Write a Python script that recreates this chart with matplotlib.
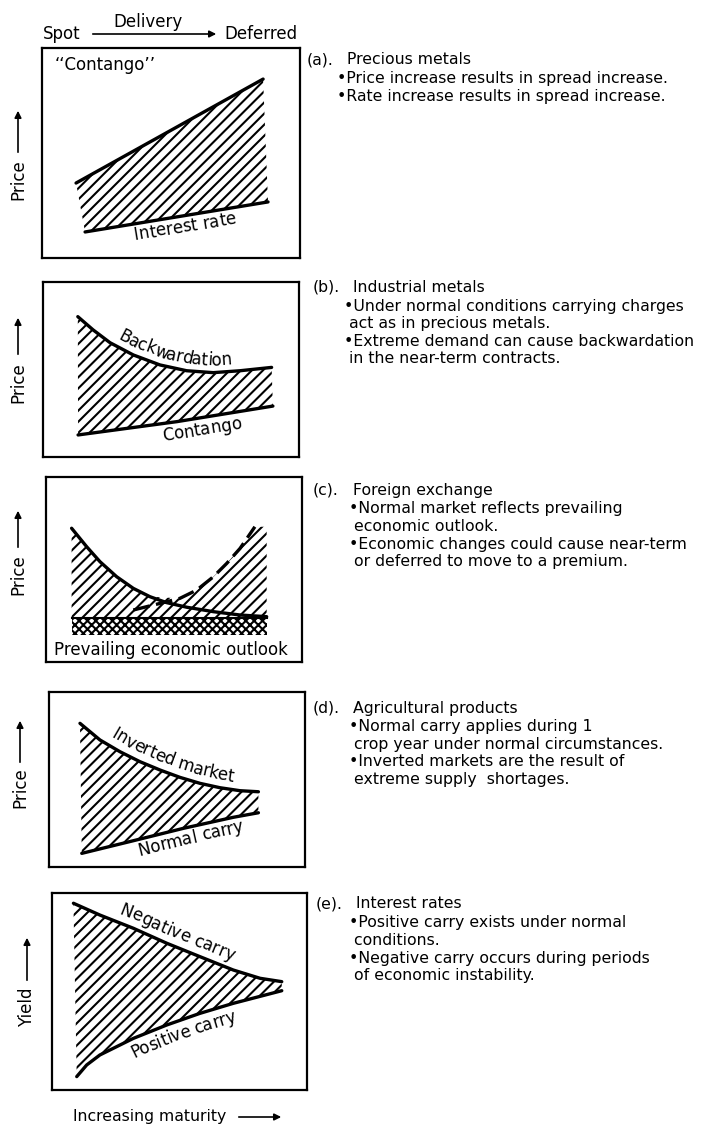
import numpy as np
import matplotlib
matplotlib.use("Agg")
import matplotlib.pyplot as plt
from matplotlib.font_manager import FontProperties

plt.rcParams['font.family'] = ['DejaVu Sans']
plt.rcParams['hatch.linewidth'] = 1.5

W, H = 706, 1124

# ---- curve data, each panel on a 0-10 maturity / 0-10 price scale ----
# (a) precious metals
a_upper_x = [1.32, 8.57]
a_upper_y = [3.57, 8.52]
a_lower_x = [1.67, 8.76]
a_lower_y = [1.24, 2.67]

# (b) industrial metals
b_back_x = [1.36, 1.96, 2.62, 3.53, 4.57, 5.61, 6.65, 7.70, 8.93]
b_back_y = [8.02, 7.26, 6.53, 5.83, 5.26, 4.93, 4.82, 4.93, 5.12]
b_cont_x = [1.37, 5.23, 8.98]
b_cont_y = [1.26, 2.02, 2.91]

# (c) foreign exchange
c_solid_x = [1.00, 1.59, 2.11, 2.76, 3.41, 4.06, 4.71, 5.50, 6.54, 7.58, 8.62]
c_solid_y = [7.23, 6.23, 5.42, 4.61, 3.98, 3.53, 3.21, 2.96, 2.72, 2.54, 2.45]
c_dash_x = [3.41, 3.93, 4.58, 5.23, 5.89, 6.54, 7.06, 7.58, 8.16]
c_dash_y = [2.81, 2.99, 3.21, 3.44, 3.89, 4.61, 5.33, 6.14, 7.31]
c_band_x = [1.00, 8.62]
c_band_y = [1.46, 2.38]

# (d) agricultural products
d_inv_x = [1.21, 1.99, 2.77, 3.55, 4.34, 5.12, 5.90, 6.68, 7.46, 8.18]
d_inv_y = [8.21, 7.26, 6.59, 6.02, 5.54, 5.12, 4.78, 4.53, 4.36, 4.30]
d_norm_x = [1.28, 3.29, 5.25, 7.20, 8.18]
d_norm_y = [0.78, 1.50, 2.21, 2.84, 3.10]

# (e) interest rates
e_neg_x = [0.84, 1.88, 3.19, 4.50, 5.80, 7.11, 8.16, 9.01]
e_neg_y = [9.48, 8.88, 8.21, 7.45, 6.77, 6.09, 5.67, 5.50]
e_pos_x = [0.97, 1.36, 1.88, 3.19, 4.50, 5.80, 7.11, 9.01]
e_pos_y = [0.68, 1.27, 1.78, 2.62, 3.30, 3.89, 4.40, 5.04]

# panel boxes in pixels: left, top, right, bottom
boxes = [(42, 48, 300, 258), (43, 282, 299, 457), (46, 477, 302, 662),
         (49, 692, 305, 867), (52, 893, 307, 1090)]

notes = [
    ["(a).", "Precious metals",
     ["\u2022Price increase results in spread increase.",
      "\u2022Rate increase results in spread increase."]],
    ["(b).", "Industrial metals",
     ["\u2022Under normal conditions carrying charges",
      " act as in precious metals.",
      "\u2022Extreme demand can cause backwardation",
      " in the near-term contracts."]],
    ["(c).", "Foreign exchange",
     ["\u2022Normal market reflects prevailing",
      " economic outlook.",
      "\u2022Economic changes could cause near-term",
      " or deferred to move to a premium."]],
    ["(d).", "Agricultural products",
     ["\u2022Normal carry applies during 1",
      " crop year under normal circumstances.",
      "\u2022Inverted markets are the result of",
      " extreme supply  shortages."]],
    ["(e).", "Interest rates",
     ["\u2022Positive carry exists under normal",
      " conditions.",
      "\u2022Negative carry occurs during periods",
      " of economic instability."]],
]
note_y = [60, 287, 490, 708, 904]
note_x = [(307, 347, 337), (313, 353, 344), (313, 353, 349), (313, 353, 349), (316, 356, 349)]

axis_names = ["Price", "Price", "Price", "Price", "Yield"]
axis_lab_y = [180, 383, 575, 788, 1007]
axis_arrow = [(155, 108), (357, 315), (550, 508), (765, 718), (983, 935)]
axis_lab_x = [18, 18, 18, 20, 27]

fig = plt.figure(figsize=(W / 100, H / 100), dpi=100)
bg = fig.add_axes([0, 0, 1, 1])
bg.set_xlim(0, W)
bg.set_ylim(H, 0)
bg.axis('off')
renderer = fig.canvas.get_renderer()

FS = 11.3
LFS = 12
CURVE_LW = 2.4
HATCH = '///'


def panel(box):
    l, t, r, b = box
    ax = fig.add_axes([l / W, 1 - b / H, (r - l) / W, (b - t) / H])
    ax.set_xlim(0, 10)
    ax.set_ylim(0, 10)
    ax.set_xticks([])
    ax.set_yticks([])
    for s in ax.spines.values():
        s.set_linewidth(1.6)
    return ax


def curve(ax, xs, ys, **kw):
    ax.plot(xs, ys, color='black', lw=CURVE_LW, solid_joinstyle='round',
            solid_capstyle='round', **kw)


def label_along(ax, xs, ys, text, xc, offset, fs=LFS):
    # lay the characters of text along the curve, centred at data x = xc,
    # baseline shifted by offset pixels along the normal (positive = above)
    pts = ax.transData.transform(np.column_stack([xs, ys]))
    seg = np.diff(pts, axis=0)
    cum = np.concatenate([[0], np.cumsum(np.hypot(seg[:, 0], seg[:, 1]))])
    xcd = ax.transData.transform((xc, 0))[0]
    sc = np.interp(xcd, pts[:, 0], cum)
    prop = FontProperties(family='DejaVu Sans', size=fs)
    wid = lambda s: renderer.get_text_width_height_descent(s, prop, ismath=False)[0]
    total = wid(text)
    s0 = sc - total / 2
    for i, ch in enumerate(text):
        if ch == ' ':
            continue
        si = s0 + wid(text[:i + 1]) - wid(ch) / 2
        k = int(np.clip(np.searchsorted(cum, si) - 1, 0, len(seg) - 1))
        d = seg[k] / np.hypot(*seg[k])
        p = pts[k] + d * (si - cum[k])
        nrm = np.array([-d[1], d[0]])
        p = p + nrm * offset
        ang = np.degrees(np.arctan2(d[1], d[0]))
        fig.text(p[0], p[1], ch, transform=None, fontsize=fs, rotation=ang,
                 rotation_mode='anchor', ha='center', va='baseline')


axes = [panel(bx) for bx in boxes]

# (a)
ax = axes[0]
ax.fill(a_upper_x + a_lower_x[::-1], a_upper_y + a_lower_y[::-1],
        facecolor='none', edgecolor='black', hatch=HATCH, linewidth=0)
curve(ax, a_upper_x, a_upper_y)
curve(ax, a_lower_x, a_lower_y)
ax.text(0.5, 9.2, "\u2018\u2018Contango\u2019\u2019", fontsize=LFS, ha='left', va='center')
label_along(ax, a_lower_x, a_lower_y, "Interest rate", 5.47, -16)

# (b)
ax = axes[1]
ax.fill(b_back_x + b_cont_x[::-1], b_back_y + b_cont_y[::-1],
        facecolor='none', edgecolor='black', hatch=HATCH, linewidth=0)
curve(ax, b_back_x, b_back_y)
curve(ax, b_cont_x, b_cont_y)
label_along(ax, b_back_x, b_back_y, "Backwardation", 5.0, 7)
label_along(ax, b_cont_x, b_cont_y, "Contango", 6.13, -17)

# (c)
ax = axes[2]
cross = 4.6
left = [(x, y) for x, y in zip(c_solid_x, c_solid_y) if x < cross]
right = [(x, y) for x, y in zip(c_dash_x, c_dash_y) if x > cross]
top = left + right
px_ = [p[0] for p in top] + [c_band_x[1], c_band_x[1], c_band_x[0]]
py_ = [p[1] for p in top] + [right[-1][1], c_band_y[1], c_band_y[1]]
ax.fill(px_, py_, facecolor='none', edgecolor='black', hatch=HATCH, linewidth=0)
ax.fill_between(c_band_x, c_band_y[0], c_band_y[1], facecolor='none',
                edgecolor='black', hatch='xxxx', linewidth=0)
ax.plot(c_band_x, [c_band_y[1]] * 2, color='black', lw=1.5)
curve(ax, c_solid_x, c_solid_y)
ax.plot(c_dash_x, c_dash_y, color='black', lw=CURVE_LW, linestyle=(0, (5, 2)))
ax.text(4.88, 0.65, "Prevailing economic outlook", fontsize=LFS, ha='center', va='center')

# (d)
ax = axes[3]
ax.fill(d_inv_x + d_norm_x[::-1], d_inv_y + d_norm_y[::-1],
        facecolor='none', edgecolor='black', hatch=HATCH, linewidth=0)
curve(ax, d_inv_x, d_inv_y)
curve(ax, d_norm_x, d_norm_y)
label_along(ax, d_inv_x, d_inv_y, "Inverted market", 4.61, 8)
label_along(ax, d_norm_x, d_norm_y, "Normal carry", 5.43, -16)

# (e)
ax = axes[4]
ax.fill(e_neg_x + e_pos_x[::-1], e_neg_y + e_pos_y[::-1],
        facecolor='none', edgecolor='black', hatch=HATCH, linewidth=0)
curve(ax, e_neg_x, e_neg_y)
curve(ax, e_pos_x, e_pos_y)
label_along(ax, e_neg_x, e_neg_y, "Negative carry", 4.7, 8)
label_along(ax, e_pos_x, e_pos_y, "Positive carry", 4.94, -18)

arrow_kw = dict(arrowstyle='-|>', lw=1.2, color='black', mutation_scale=10)

# y-axis labels with arrows
for name, ly, lx, (a0, a1) in zip(axis_names, axis_lab_y, axis_lab_x, axis_arrow):
    bg.text(lx, ly, name, fontsize=LFS, rotation=90, ha='center', va='center')
    bg.annotate("", xy=(lx, a1), xytext=(lx, a0), arrowprops=arrow_kw)

# header
bg.text(148, 22, "Delivery", fontsize=LFS, ha='center', va='center')
bg.text(43, 34, "Spot", fontsize=LFS, ha='left', va='center')
bg.text(224, 34, "Deferred", fontsize=LFS, ha='left', va='center')
bg.annotate("", xy=(219, 34), xytext=(90, 34), arrowprops=arrow_kw)

# footer
bg.text(73, 1117, "Increasing maturity", fontsize=11.3, ha='left', va='center')
bg.annotate("", xy=(284, 1117), xytext=(236, 1117), arrowprops=arrow_kw)

# right-hand notes
for (tag, head, lines), y0, (xt, xh, xb) in zip(notes, note_y, note_x):
    bg.text(xt, y0, tag, fontsize=FS, ha='left', va='center')
    bg.text(xh, y0, head, fontsize=FS, ha='left', va='center')
    for i, ln in enumerate(lines):
        bg.text(xb, y0 + 19 + i * 17.5, ln, fontsize=FS, ha='left', va='center')

fig.savefig("out.png", dpi=100)
